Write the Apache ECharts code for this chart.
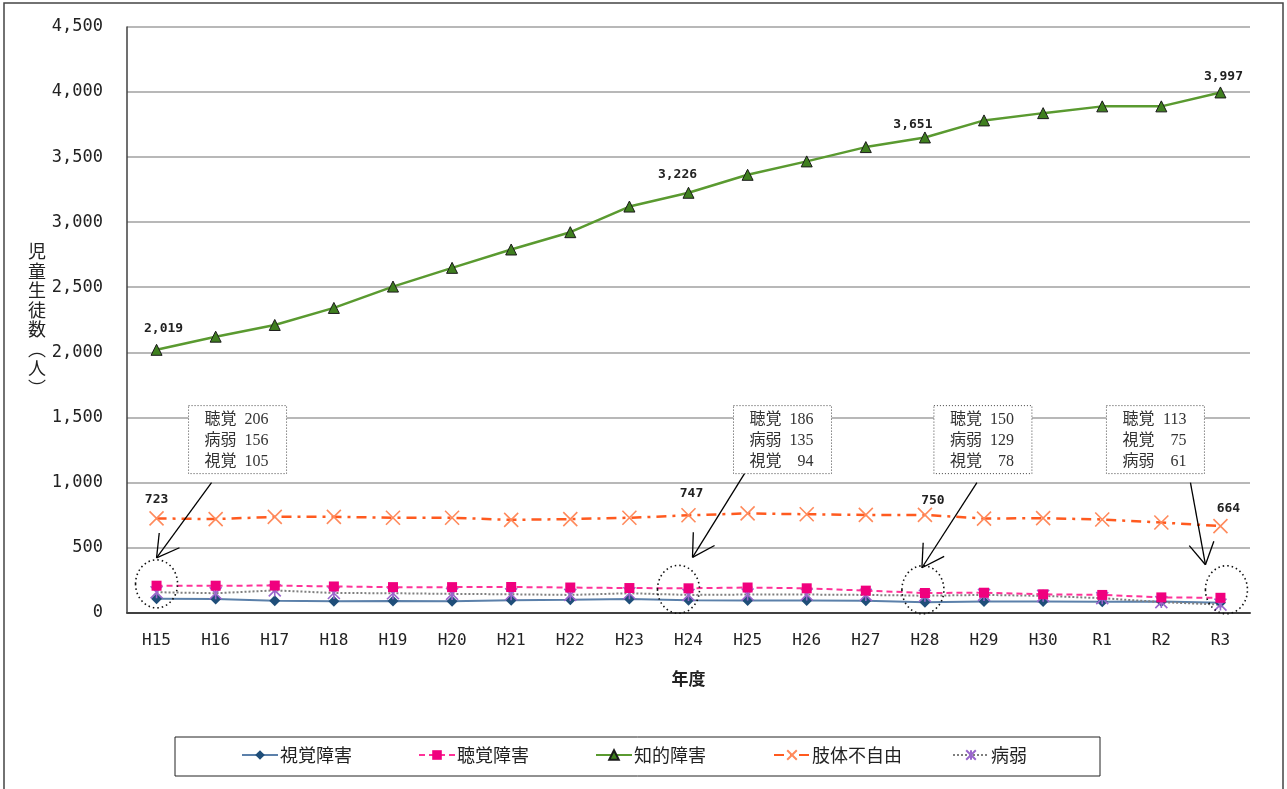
<!DOCTYPE html>
<html>
<head>
<meta charset="utf-8">
<script src="https://cdn.jsdelivr.net/npm/echarts@6/dist/echarts.min.js"></script>
<style>
html,body{margin:0;padding:0;background:#fff;}
#chart{width:1287px;height:789px;}
</style>
</head>
<body>
<div id="chart"></div>
<script>
// ---- data ----
const categories = ['H15','H16','H17','H18','H19','H20','H21','H22','H23','H24','H25','H26','H27','H28','H29','H30','R1','R2','R3'];
const visual       = [105,104,90,87,88,86,95,98,104,94,92,92,90,78,85,84,82,84,75];
const hearing      = [206,206,207,200,195,195,196,192,188,186,192,186,168,150,152,140,135,116,113];
const intellectual = [2019,2120,2210,2341,2505,2649,2790,2923,3120,3226,3364,3467,3577,3651,3782,3838,3890,3890,3997];
const physical     = [723,718,735,735,728,728,712,718,728,747,762,755,750,750,722,725,715,692,664];
const illness      = [156,148,170,150,148,143,140,135,148,135,138,138,135,129,135,128,110,80,61];
const seriesNames  = ['視覚障害','聴覚障害','知的障害','肢体不自由','病弱'];
const shortNames   = {visual:'視覚', hearing:'聴覚', illness:'病弱'};
const yAxisName    = '児童生徒数（人）';
const xAxisName    = '年度';
const labelIdx     = [0, 9, 13, 18];

// ---- helpers ----
const fmt = v => String(v).replace(/\B(?=(\d{3})+(?!\d))/g, ',');
const monoFont = "'DejaVu Sans Mono', monospace";
const jpFont = "'Noto Sans CJK JP', sans-serif";
const serifFont = "'Liberation Serif', 'Noto Sans CJK JP', serif";

// per-label offsets (layout only)
const greenOff = {0:[7,0], 9:[-11,3], 13:[-12,9], 18:[3,6]};
const orangeOff = {0:[0,5], 9:[3,3], 13:[8,10], 18:[8,7]};

const chart = echarts.init(document.getElementById('chart'), null, {renderer:'canvas'});

const xPath = 'path://M0,0 L10,10 M10,0 L0,10';
const starPath = 'path://M0,0 L10,10 M10,0 L0,10 M5,0 L5,10';

const vertName = yAxisName.replace('（','︵').replace('）','︶').split('').join('\n');

// legend slots (layout only)
const legendLeft = [241, 418, 595, 773, 952];
const legends = seriesNames.map((n, i) => ({
  left: legendLeft[i], top: 746,
  padding: 0,
  itemWidth: 36, itemHeight: 12, itemGap: 0,
  textStyle: {fontFamily: jpFont, fontSize: 18, color: '#222', padding: [0, 0, 0, -3]},
  data: [n]
}));

const option = {
  animation: false,
  backgroundColor: '#ffffff',
  grid: {left: 127, top: 27, width: 1123, height: 585.5, containLabel: false},
  xAxis: {
    type: 'category',
    data: categories,
    boundaryGap: true,
    name: xAxisName,
    nameLocation: 'middle',
    nameGap: 58,
    nameTextStyle: {fontFamily: jpFont, fontSize: 17, color: '#222', fontWeight: 'bold'},
    axisLine: {show: true, lineStyle: {color: '#404040', width: 2}},
    axisTick: {show: false},
    axisLabel: {margin: 20, fontFamily: monoFont, fontSize: 16, color: '#222'},
    splitLine: {show: false}
  },
  yAxis: {
    type: 'value',
    min: 0, max: 4500, interval: 500,
    name: vertName,
    nameLocation: 'middle',
    nameRotate: 0,
    nameGap: 83,
    nameTextStyle: {fontFamily: jpFont, fontSize: 18, lineHeight: 19.5, color: '#222', align: 'center'},
    axisLine: {show: true, lineStyle: {color: '#404040', width: 1.5}},
    axisTick: {show: false},
    axisLabel: {margin: 24, fontFamily: monoFont, fontSize: 17, color: '#222', formatter: v => fmt(v)},
    splitLine: {show: true, lineStyle: {color: '#a0a0a0', width: 1.5}}
  },
  legend: legends,
  series: [
    {
      name: seriesNames[0], type: 'line', data: visual,
      symbol: 'diamond', symbolSize: 11,
      lineStyle: {color: '#5b80aa', width: 2},
      itemStyle: {color: '#1f4e79'},
      z: 3
    },
    {
      name: seriesNames[1], type: 'line', data: hearing,
      symbol: 'rect', symbolSize: 10,
      lineStyle: {color: '#ff3399', width: 2, type: [6, 4]},
      itemStyle: {color: '#f0007e'},
      z: 4
    },
    {
      name: seriesNames[2], type: 'line', data: intellectual,
      symbol: 'triangle', symbolSize: 11,
      lineStyle: {color: '#5a9a30', width: 2.5},
      itemStyle: {color: '#3f7f1f', borderColor: '#1a1a1a', borderWidth: 1},
      label: {
        show: true, position: 'top', distance: 9,
        fontFamily: monoFont, fontSize: 13, color: '#222', fontWeight: 'bold',
        formatter: p => labelIdx.includes(p.dataIndex) ? fmt(p.value) : ''
      },
      labelLayout: p => ({dx: (greenOff[p.dataIndex]||[0,0])[0], dy: (greenOff[p.dataIndex]||[0,0])[1]}),
      z: 5
    },
    {
      name: seriesNames[3], type: 'line', data: physical,
      symbol: xPath, symbolSize: 14,
      lineStyle: {color: '#ff5a1f', width: 2.5, type: [10, 6, 3, 6]},
      itemStyle: {color: 'rgba(0,0,0,0)', borderColor: '#ff8a5c', borderWidth: 1.6},
      label: {
        show: true, position: 'top', distance: 10,
        fontFamily: monoFont, fontSize: 13, color: '#222', fontWeight: 'bold',
        formatter: p => labelIdx.includes(p.dataIndex) ? fmt(p.value) : ''
      },
      labelLayout: p => ({dx: (orangeOff[p.dataIndex]||[0,0])[0], dy: (orangeOff[p.dataIndex]||[0,0])[1]}),
      z: 4
    },
    {
      name: seriesNames[4], type: 'line', data: illness,
      symbol: starPath, symbolSize: 12,
      lineStyle: {color: '#7f7f7f', width: 2, type: [2, 2]},
      itemStyle: {color: 'rgba(0,0,0,0)', borderColor: '#9a66cc', borderWidth: 1.6},
      z: 3
    }
  ]
};
chart.setOption(option);

// ---- annotations (callout boxes, arrows, dotted circles) built from data ----
const toX = i => chart.convertToPixel({xAxisIndex: 0}, categories[i]);
const toY = v => chart.convertToPixel({yAxisIndex: 0}, v);

const annLayout = [
  {idx: 0,  boxDx: 32,  startDx: 23, startDy: 9, tipDx: 0,   tipDy: -2, cDx: 0,   cVal: 220},
  {idx: 9,  boxDx: 45,  startDx: 11, startDy: 0, tipDx: 4,   tipDy: -8, cDx: -10, cVal: 178},
  {idx: 13, boxDx: 9,   startDx: 43, startDy: 9, tipDx: -3,  tipDy: 2,  cDx: -2,  cVal: 175},
  {idx: 18, boxDx: -114,startDx: 84, startDy: 9, tipDx: -15, tipDy: -1, cDx: 6,   cVal: 175}
];
const boxW = 98, boxH = 68, rx = 21, ry = 24;
const g = [];
const boxTop = toY(1590);

annLayout.forEach(a => {
  const px = toX(a.idx);
  const boxLeft = px + a.boxDx;
  const rows = [
    {n: shortNames.hearing, v: hearing[a.idx]},
    {n: shortNames.illness, v: illness[a.idx]},
    {n: shortNames.visual, v: visual[a.idx]}
  ].sort((p, q) => q.v - p.v);

  g.push({type: 'rect', shape: {x: boxLeft, y: boxTop, width: boxW, height: boxH},
          style: {fill: '#fff', stroke: '#444', lineWidth: 1, lineDash: [1, 2]}, z: 50});
  rows.forEach((r, k) => {
    const cy = boxTop + 14 + k * 21;
    g.push({type: 'text', x: boxLeft + 16, y: cy, z: 51,
            style: {text: r.n, font: "16px " + serifFont, fill: '#333', textAlign: 'left', textVerticalAlign: 'middle'}});
    g.push({type: 'text', x: boxLeft + 80, y: cy, z: 51,
            style: {text: String(r.v), font: "16px " + serifFont, fill: '#333', textAlign: 'right', textVerticalAlign: 'middle'}});
  });

  const cx = px + a.cDx, cy = toY(a.cVal);
  g.push({type: 'ellipse', shape: {cx: cx, cy: cy, rx: rx, ry: ry},
          style: {fill: 'none', stroke: '#111', lineWidth: 1.6, lineDash: [1.5, 3]}, z: 50});

  const sx = boxLeft + a.startDx, sy = boxTop + boxH + a.startDy;
  const tx = px + a.tipDx, ty = cy - ry + a.tipDy;
  g.push({type: 'line', shape: {x1: sx, y1: sy, x2: tx, y2: ty}, style: {stroke: '#000', lineWidth: 1.3}, z: 50});
  const ang = Math.atan2(sy - ty, sx - tx);
  const L = 25, da = 30 * Math.PI / 180;
  [ang - da, ang + da].forEach(b => {
    g.push({type: 'line', shape: {x1: tx, y1: ty, x2: tx + L * Math.cos(b), y2: ty + L * Math.sin(b)},
            style: {stroke: '#000', lineWidth: 1.3}, z: 50});
  });
});

// legend frame
g.push({type: 'rect', shape: {x: 175, y: 737, width: 925, height: 39},
        style: {fill: 'none', stroke: '#222', lineWidth: 1}, z: 40, silent: true});
// outer frame
g.push({type: 'rect', shape: {x: 4, y: 3, width: 1279, height: 800},
        style: {fill: 'none', stroke: '#444', lineWidth: 1.5}, z: 60, silent: true});

chart.setOption({graphic: g});
</script>
</body>
</html>
